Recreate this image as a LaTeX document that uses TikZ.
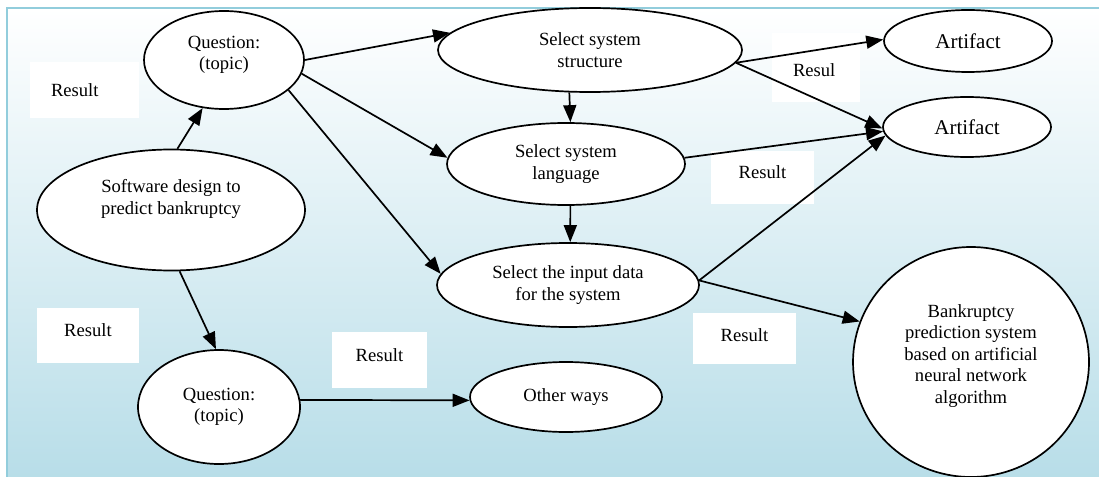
\documentclass[tikz,border=0pt]{standalone}
\usepackage{fontspec}
\setmainfont{Liberation Serif}
\usetikzlibrary{arrows.meta,shapes.geometric}
\definecolor{bgblue}{HTML}{B7DDE8}
\definecolor{frameblue}{HTML}{92CDDC}
\begin{document}
\begin{tikzpicture}[x=1pt,y=-1pt,
  ell/.style={ellipse, draw=black, line width=1.7pt, fill=white, inner sep=0pt,
    align=center, font=\fontsize{18.6}{21.5}\selectfont},
  resbox/.style={rectangle, fill=white, inner sep=0pt,
    font=\fontsize{18.6}{21.5}\selectfont},
  arr/.style={line width=1.7pt, -{Triangle[length=17pt,width=13pt]}}]
\useasboundingbox (0,0) rectangle (1099,476);
\fill[top color=white, bottom color=bgblue] (7,8) rectangle (1106,483);
\draw[frameblue, line width=2pt] (7,483) -- (7,8) -- (1106,8);

% result boxes
\node[resbox, text width=67pt, inner xsep=21pt, align=left, minimum height=56pt] (r1) at (84.5,90) {Result};
\node[resbox, minimum width=102pt, minimum height=55pt, text depth=10pt] (r2) at (88,335.5) {Result};
\node[resbox, minimum width=95pt, minimum height=56pt, text depth=10pt] (r3) at (379.5,360) {Result};
\node[resbox, minimum width=103pt, minimum height=51pt, text depth=6pt] (r4) at (744.5,338.5) {Result};
\node[resbox, minimum width=103pt, minimum height=53pt, text depth=10pt] (r5) at (762.5,177.5) {Result};
\node[resbox, text width=46pt, inner xsep=21pt, align=left, minimum height=69pt, text height=17.7pt] (r6) at (816,67.5) {Resul};

% ellipses
\node[ell, minimum width=160pt, minimum height=98pt, text depth=14pt] (q1) at (224,60) {Question:\\(topic)};
\node[ell, minimum width=268pt, minimum height=121pt, text depth=26.5pt] (soft) at (171,210) {Software design to\\predict bankruptcy};
\node[ell, minimum width=162pt, minimum height=114pt] (q2) at (219,407) {Question:\\(topic)};
\node[ell, minimum width=192pt, minimum height=70pt] (other) at (566,397) {Other ways};
\node[ell, minimum width=304pt, minimum height=84pt] (struct) at (590,50) {Select system\\structure};
\node[ell, minimum width=238pt, minimum height=82pt] (lang) at (566,164) {Select system\\language};
\node[ell, minimum width=262pt, minimum height=84pt] (input) at (568,285) {Select the input data\\for the system};
\node[ell, minimum width=168pt, minimum height=62pt, font=\fontsize{21}{24}\selectfont] (art1) at (968,41) {Artifact};
\node[ell, minimum width=168pt, minimum height=60pt, font=\fontsize{21}{24}\selectfont] (art2) at (967,127) {Artifact};
\node[ell, minimum width=236pt, minimum height=230pt, text depth=16pt] (bank) at (971,362) {Bankruptcy\\prediction system\\based on artificial\\neural network\\algorithm};

% connectors
\draw[arr] (soft.84) -- (q1.246);
\draw[arr] (q1.0) -- (struct.173);
\draw[arr] (q1.350) -- (lang.177);
\draw[arr] (q1.335) -- (input.175);
\draw[arr] (soft.278) -- (q2.93);
\draw[arr] (q2.5) -- (other.182);
\draw[arr] (struct.244) -- (lang.84);
\draw[arr] (lang.276) -- (input.87);
\draw[arr] (struct.355) -- (art1.179);
\draw[arr] (struct.355) -- (art2.181);
\draw[arr] (lang.3) -- (art2.183);
\draw[arr] (input.2) -- (art2.186);
\draw[arr] (input.2) -- (bank.160);
\end{tikzpicture}
\end{document}
